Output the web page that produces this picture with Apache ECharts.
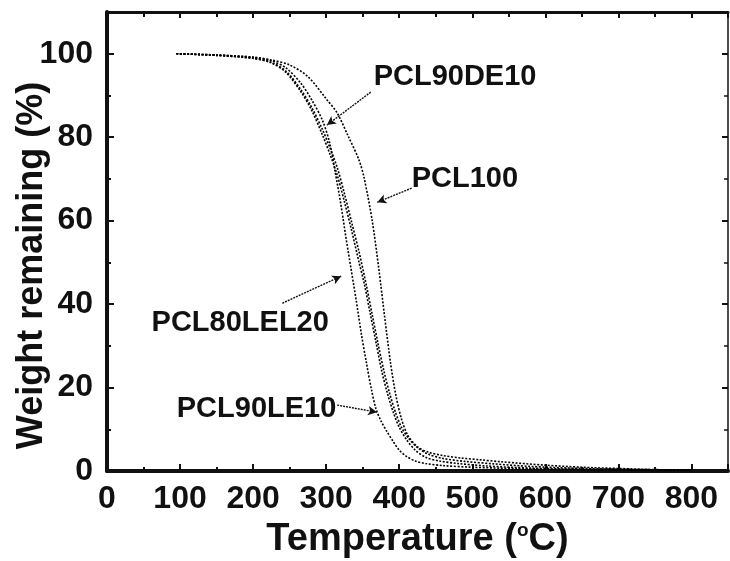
<!DOCTYPE html>
<html>
<head>
<meta charset="utf-8">
<script src="https://cdn.jsdelivr.net/npm/echarts@6/dist/echarts.min.js"></script>
<style>
  html, body { margin: 0; padding: 0; background: #fff; }
  #chart { width: 730px; height: 561px; }
</style>
</head>
<body>
<div id="chart"></div>
<script>
// TGA curves: [temperature (°C), weight remaining (%)]
const pcl100 = [
  [95,100],[150,99.7],[200,99.2],[225,98.5],[250,97.3],[275,94.5],[300,89.2],[315,85.8],
  [330,80.3],[345,74.5],[352,70.2],[363,60],[372,48.5],[380,37],[388,26],[395,18.5],
  [403,12.5],[412,8.5],[425,5.8],[440,4.5],[460,3.7],[485,3.1],[510,2.7],[540,2.2],
  [600,1.4],[650,0.9],[700,0.6],[760,0.3],[800,0.2]
];
const pcl90de10 = [
  [95,100],[150,99.6],[200,98.9],[225,97.9],[245,95.8],[265,91.5],[280,87.2],[295,81.8],
  [305,77.5],[315,72.8],[325,66.5],[335,59.5],[345,52.5],[355,44.5],[363,37.5],[371,30.5],
  [379,24],[387,18.5],[395,14],[403,10.5],[413,7.8],[425,5.6],[440,4],[460,3],[490,2.3],
  [530,1.7],[580,1.1],[650,0.6],[750,0.3],[800,0.2]
];
const pcl80lel20 = [
  [95,100],[150,99.6],[200,98.9],[225,97.8],[245,95.5],[265,91],[280,86.5],[295,80.5],
  [305,76],[315,71],[325,64.5],[335,57.5],[345,50],[352,45],[360,38],[368,31],[376,24],
  [384,18.5],[392,14],[400,10.5],[410,7.5],[422,5],[436,3.3],[455,2.4],[480,1.8],
  [520,1.2],[580,0.7],[650,0.4],[750,0.2],[800,0.1]
];
const pcl90le10 = [
  [95,100],[150,99.7],[200,99.1],[225,98.3],[245,96.6],[265,93],[280,89],[295,84],
  [305,78.5],[312,72],[320,64],[327,56],[334,48.5],[341,41],[348,33],[355,26],[362,19.5],
  [368,15],[375,12],[383,9.5],[392,7],[400,5],[410,3.5],[422,2.4],[436,1.8],[460,1.3],
  [500,0.9],[560,0.6],[650,0.3],[750,0.15],[800,0.1]
];

// Sample names and where each callout sits: text anchor, arrow start, arrow tip
const sampleNames = ['PCL100', 'PCL90DE10', 'PCL80LEL20', 'PCL90LE10'];
const calloutText = {
  'PCL90DE10': [365, 94.4],
  'PCL100': [417, 70],
  'PCL80LEL20': [61, 35.4],
  'PCL90LE10': [95.5, 14.9]
};
const calloutArrow = {
  'PCL90DE10': [[361, 90.8], [301, 82.9]],
  'PCL100': [[417, 67.8], [370, 64.4]],
  'PCL80LEL20': [[240, 40.2], [320.5, 46.7]],
  'PCL90LE10': [[315, 15.8], [369.5, 14.1]]
};

const xTicks = { min: 0, max: 850, interval: 100 };
const yTicks = { min: 0, max: 110, interval: 20 };

const FONT = '"Liberation Sans", Arial, sans-serif';
const curves = { 'PCL100': pcl100, 'PCL90DE10': pcl90de10, 'PCL80LEL20': pcl80lel20, 'PCL90LE10': pcl90le10 };

const series = sampleNames.map(name => ({
  name: name,
  type: 'line',
  data: curves[name],
  showSymbol: false,
  smooth: 0.3,
  lineStyle: { color: '#000', width: 1.6, type: [2, 1.6] },
  z: 3,
  markLine: {
    silent: true,
    symbol: ['none', 'arrow'],
    symbolSize: [7, 9],
    lineStyle: { color: '#111', width: 1.4, type: [2, 1] },
    label: { show: false },
    data: [[
      { coord: calloutArrow[name][0] },
      { coord: calloutArrow[name][1] }
    ]]
  },
  markPoint: {
    silent: true,
    symbol: 'circle',
    symbolSize: 0,
    label: {
      show: true,
      position: 'right',
      distance: 0,
      formatter: name,
      fontFamily: FONT,
      fontWeight: 'bold',
      fontSize: 29,
      color: '#111'
    },
    data: [{ coord: calloutText[name] }]
  }
}));

const chart = echarts.init(document.getElementById('chart'), null, { renderer: 'canvas' });
chart.setOption({
  animation: false,
  backgroundColor: '#fff',
  grid: { left: 107, right: 2, top: 12, bottom: 90, containLabel: false, outerBoundsMode: 'none' },
  xAxis: [{
    type: 'value',
    min: xTicks.min, max: xTicks.max, interval: xTicks.interval,
    name: 'Temperature ({sup|o}C)',
    nameLocation: 'middle',
    nameGap: 50,
    nameMoveOverlap: false,
    nameTextStyle: {
      fontFamily: FONT, fontWeight: 'bold', fontSize: 38, color: '#111',
      rich: { sup: { fontFamily: FONT, fontWeight: 'bold', fontSize: 19, color: '#111', verticalAlign: 'top', padding: [0, 0, 16, 0] } }
    },
    axisLine: { show: true, onZero: false, lineStyle: { color: '#111', width: 4 } },
    axisTick: { show: true, inside: true, length: 7, lineStyle: { color: '#111', width: 2 } },
    minorTick: { show: true, splitNumber: 2, length: 4, lineStyle: { color: '#111', width: 2 } },
    splitLine: { show: false },
    axisLabel: { show: true, showMaxLabel: false, margin: 12, fontFamily: FONT, fontWeight: 'bold', fontSize: 32, color: '#111' }
  }, {
    type: 'value', position: 'top',
    min: xTicks.min, max: xTicks.max, interval: xTicks.interval,
    axisLine: { show: true, onZero: false, lineStyle: { color: '#111', width: 3 } },
    axisTick: { show: true, inside: true, length: 6, lineStyle: { color: '#111', width: 2 } },
    minorTick: { show: true, splitNumber: 2, length: 5, lineStyle: { color: '#111', width: 2 } },
    splitLine: { show: false },
    axisLabel: { show: false }
  }],
  yAxis: [{
    type: 'value',
    min: yTicks.min, max: yTicks.max, interval: yTicks.interval,
    name: 'Weight remaining (%)',
    nameLocation: 'middle',
    nameGap: 57,
    nameRotate: 90,
    nameMoveOverlap: false,
    nameTextStyle: { fontFamily: FONT, fontWeight: 'bold', fontSize: 36, color: '#111', padding: [0, 48, 0, 0] },
    axisLine: { show: true, onZero: false, lineStyle: { color: '#111', width: 4 } },
    axisTick: { show: true, inside: true, length: 7, lineStyle: { color: '#111', width: 2 } },
    minorTick: { show: true, splitNumber: 2, length: 4, lineStyle: { color: '#111', width: 2 } },
    splitLine: { show: false },
    axisLabel: { show: true, showMaxLabel: false, margin: 14, fontFamily: FONT, fontWeight: 'bold', fontSize: 32, color: '#111' }
  }, {
    type: 'value', position: 'right',
    min: yTicks.min, max: yTicks.max, interval: yTicks.interval,
    axisLine: { show: true, onZero: false, lineStyle: { color: '#111', width: 1.5 } },
    axisTick: { show: true, inside: true, length: 6, lineStyle: { color: '#111', width: 2 } },
    minorTick: { show: true, splitNumber: 2, length: 4, lineStyle: { color: '#111', width: 1.5 } },
    splitLine: { show: false },
    axisLabel: { show: false }
  }],
  series: series
});
</script>
</body>
</html>
